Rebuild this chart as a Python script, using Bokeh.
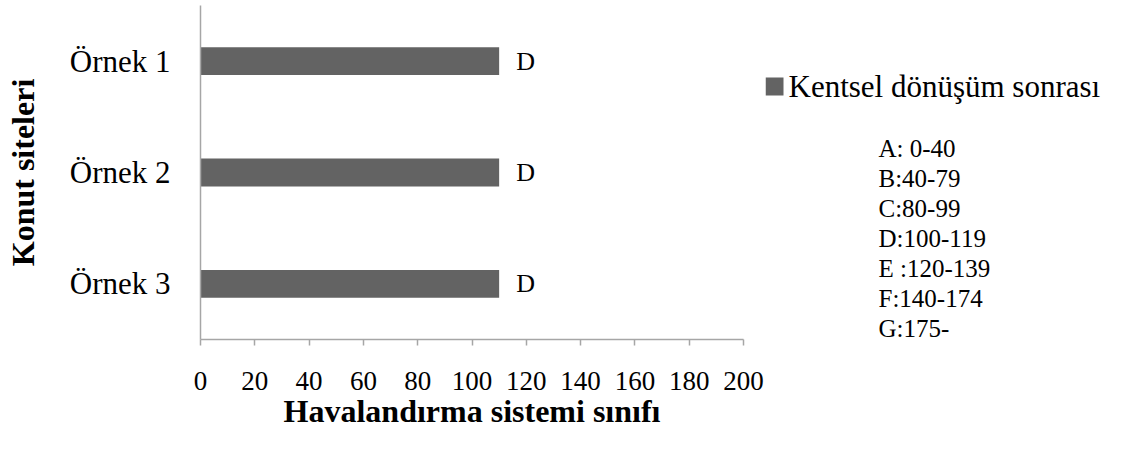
from bokeh.plotting import figure
from bokeh.models import ColumnDataSource, Range1d, FactorRange, FixedTicker
from bokeh.layouts import row
from bokeh.core.properties import value
from bokeh.embed import file_html
from bokeh.resources import INLINE

# ---- data ----
sites = ["Örnek 1", "Örnek 2", "Örnek 3"]
values = [110, 110, 110]
grades = ["D", "D", "D"]
series_name = "Kentsel dönüşüm sonrası"
x_ticks = [0, 20, 40, 60, 80, 100, 120, 140, 160, 180, 200]
class_notes = ["A: 0-40", "B:40-79", "C:80-99", "D:100-119", "E :120-139", "F:140-174", "G:175-"]

FONT = "Liberation Serif"
BAR = "#636363"
AXIS = "#a6a6a6"
H = 453
W_TOTAL = 1130
W1 = 765
TOP = 5
FRAME_H = 334  # plot-frame height (shared by both panels)
BOTTOM = H - TOP - FRAME_H

src = ColumnDataSource(dict(site=sites, val=values, grade=grades))

p = figure(width=W1, height=H, output_backend="svg", toolbar_location=None,
           y_range=FactorRange(factors=list(reversed(sites)), range_padding=0),
           x_range=Range1d(0, 200),
           min_border_left=200, min_border_right=22, min_border_top=TOP,
           min_border_bottom=BOTTOM)
p.outline_line_color = None
p.grid.visible = False

p.hbar(y="site", right="val", left=0, height=0.25, source=src,
       fill_color=BAR, line_color=None)
p.text(x="val", y="site", text="grade", source=src, x_offset=17,
       text_font=value(FONT), text_font_size="26px", text_baseline="middle",
       text_align="left", text_color="black")

xa = p.xaxis[0]
xa.ticker = FixedTicker(ticks=x_ticks)
xa.axis_line_color = AXIS
xa.axis_line_width = 1.5
xa.major_tick_line_color = AXIS
xa.major_tick_line_width = 1.5
xa.major_tick_in = 0
xa.major_tick_out = 6
xa.minor_tick_line_color = None
xa.major_label_text_font = FONT
xa.major_label_text_font_size = "27px"
xa.major_label_text_color = "black"
xa.major_label_standoff = 26
xa.axis_label = "Havalandırma sistemi sınıfı"
xa.axis_label_text_font = FONT
xa.axis_label_text_font_size = "32px"
xa.axis_label_text_font_style = "bold"
xa.axis_label_text_color = "black"
xa.axis_label_standoff = 0

ya = p.yaxis[0]
ya.axis_line_color = AXIS
ya.axis_line_width = 1.5
ya.major_tick_line_color = None
ya.minor_tick_line_color = None
ya.major_label_text_font = FONT
ya.major_label_text_font_size = "31px"
ya.major_label_text_color = "black"
ya.major_label_standoff = 24
ya.axis_label = "Konut siteleri"
ya.axis_label_text_font = FONT
ya.axis_label_text_font_size = "32px"
ya.axis_label_text_font_style = "bold"
ya.axis_label_text_color = "black"
ya.axis_label_standoff = 26

# ---- right panel: legend and class notes (pixel-like coordinates, y downward) ----
W2 = W_TOTAL - W1
p2 = figure(width=W2, height=H, output_backend="svg", toolbar_location=None,
            x_range=Range1d(0, W2), y_range=Range1d(FRAME_H, 0),
            min_border_left=0, min_border_right=0,
            min_border_top=TOP, min_border_bottom=BOTTOM)
p2.outline_line_color = None
p2.grid.visible = False
p2.axis.visible = False

# legend entry for the bar series
p2.rect(x=[9], y=[81], width=18, height=18, fill_color=BAR, line_color=None)
p2.text(x=[23], y=[81], text=[series_name], text_font=value(FONT),
        text_font_size="31px", text_baseline="middle", text_align="left",
        text_color="black")

note_x = [113] * len(class_notes)
note_y = [143 + 30 * i for i in range(len(class_notes))]
p2.text(x=note_x, y=note_y, text=class_notes, text_font=value(FONT),
        text_font_size="25px", text_baseline="middle", text_align="left",
        text_color="black")

layout = row(p, p2, spacing=0)
open("out.html", "w").write(file_html(layout, INLINE))
